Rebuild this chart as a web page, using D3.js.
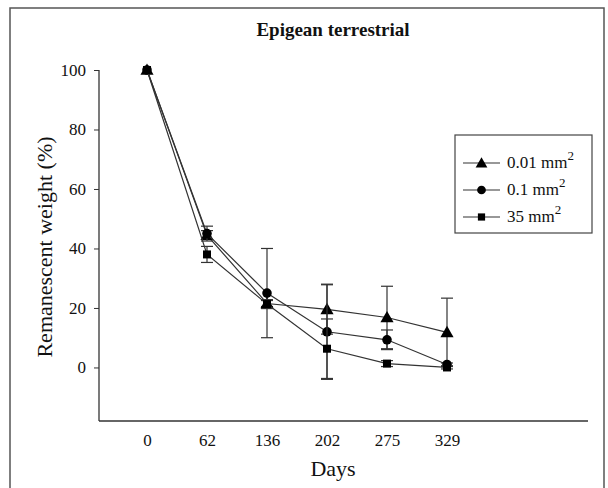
<!DOCTYPE html>
<html><head><meta charset="utf-8">
<script src="https://cdn.jsdelivr.net/npm/d3@7"></script>
<style>body{margin:0;background:#fff}svg{display:block}text{font-family:"Liberation Serif","Times New Roman",serif;fill:#111}</style>
</head><body>
<script>
const days = ["0","62","136","202","275","329"];
const yTicks = [0,20,40,60,80,100];
const seriesNames = ["0.01 mm", "0.1 mm", "35 mm"];
const tri = [100, 44.5, 21.5, 19.5, 16.8, 11.8];
const triErr = [0, 1.5, 1, 8.3, 10.5, 11.5];
const circ = [100, 45, 25, 12, 9.3, 1];
const circErr = [0, 2.5, 15, 16, 3.3, 0.5];
const sq = [100, 38, 21.3, 6.3, 1.3, 0];
const sqErr = [0, 2.7, 1.5, 10, 1, 0.5];
const symbols = [d3.symbolTriangle, d3.symbolCircle, d3.symbolSquare];

const W = 608, H = 488;
const svg = d3.select("body").append("svg").attr("width", W).attr("height", H);
svg.append("rect").attr("x",10).attr("y",8).attr("width",594).attr("height",490)
  .attr("fill","none").attr("stroke","#555").attr("stroke-width",1.5);

const x = d3.scaleLinear().domain([-0.8, 7.35]).range([99, 588]);
const y = d3.scaleLinear().domain([-18, 100]).range([421, 70]);

// axes
const yAxis = svg.append("g").attr("transform","translate(99,0)")
  .call(d3.axisLeft(y).tickValues(yTicks).tickSize(5).tickPadding(8));
yAxis.select(".domain").remove();
yAxis.selectAll("text").style("font-size","17px");
yAxis.selectAll("line").attr("stroke","#333");
svg.append("line").attr("x1",99).attr("x2",99).attr("y1",y(100)).attr("y2",421).attr("stroke","#333").attr("stroke-width",1.3);
svg.append("line").attr("x1",99).attr("x2",588).attr("y1",421).attr("y2",421).attr("stroke","#333").attr("stroke-width",1.3);

const xAxis = svg.append("g").attr("transform","translate(0,421)")
  .call(d3.axisBottom(x).tickValues(d3.range(days.length)).tickFormat(i => days[i]).tickSize(0).tickPadding(13));
xAxis.select(".domain").remove();
xAxis.selectAll("text").style("font-size","17px");

svg.append("text").attr("x",333).attr("y",36).attr("text-anchor","middle")
  .style("font-size","19px").style("font-weight","bold").text("Epigean terrestrial");
svg.append("text").attr("x",333).attr("y",476).attr("text-anchor","middle")
  .style("font-size","22px").text("Days");
svg.append("text").attr("transform","translate(52,247) rotate(-90)").attr("text-anchor","middle")
  .style("font-size","22px").text("Remanescent weight (%)");

const series = [[tri,triErr],[circ,circErr],[sq,sqErr]];
const line = d3.line().x((d,i)=>x(i)).y(d=>y(d));
series.forEach(([vals, errs], s) => {
  const g = svg.append("g");
  vals.forEach((v,i) => {
    if (!errs[i]) return;
    const cx = x(i), y1 = y(v+errs[i]), y2 = y(v-errs[i]);
    g.append("line").attr("x1",cx).attr("x2",cx).attr("y1",y1).attr("y2",y2).attr("stroke","#333").attr("stroke-width",1.2);
    [y1,y2].forEach(yy => g.append("line").attr("x1",cx-6).attr("x2",cx+6).attr("y1",yy).attr("y2",yy).attr("stroke","#333").attr("stroke-width",1.2));
  });
  g.append("path").attr("d", line(vals)).attr("fill","none").attr("stroke","#333").attr("stroke-width",1.2);
  const sz = [75, 72, 64][s];
  g.selectAll(".m").data(vals).enter().append("path")
    .attr("transform",(d,i)=>`translate(${x(i)},${y(d)+(s===0?1:0)})`)
    .attr("d", d3.symbol().type(symbols[s]).size(sz)).attr("fill","#000");
});

// legend
const lg = svg.append("g");
lg.append("rect").attr("x",455).attr("y",135).attr("width",137).attr("height",98)
  .attr("fill","#fff").attr("stroke","#444").attr("stroke-width",1.2);
seriesNames.forEach((n,s) => {
  const ly = 163 + s*27;
  lg.append("line").attr("x1",463).attr("x2",500).attr("y1",ly).attr("y2",ly).attr("stroke","#333").attr("stroke-width",1.2);
  lg.append("path").attr("transform",`translate(481.5,${ly+(s===0?1:0)})`)
    .attr("d", d3.symbol().type(symbols[s]).size([60,60,52][s])).attr("fill","#000");
  const t = lg.append("text").attr("x",507).attr("y",ly+5).style("font-size","17px");
  t.append("tspan").text(n);
  t.append("tspan").attr("dy",-8).style("font-size","13px").text("2");
});
</script>
</body></html>
